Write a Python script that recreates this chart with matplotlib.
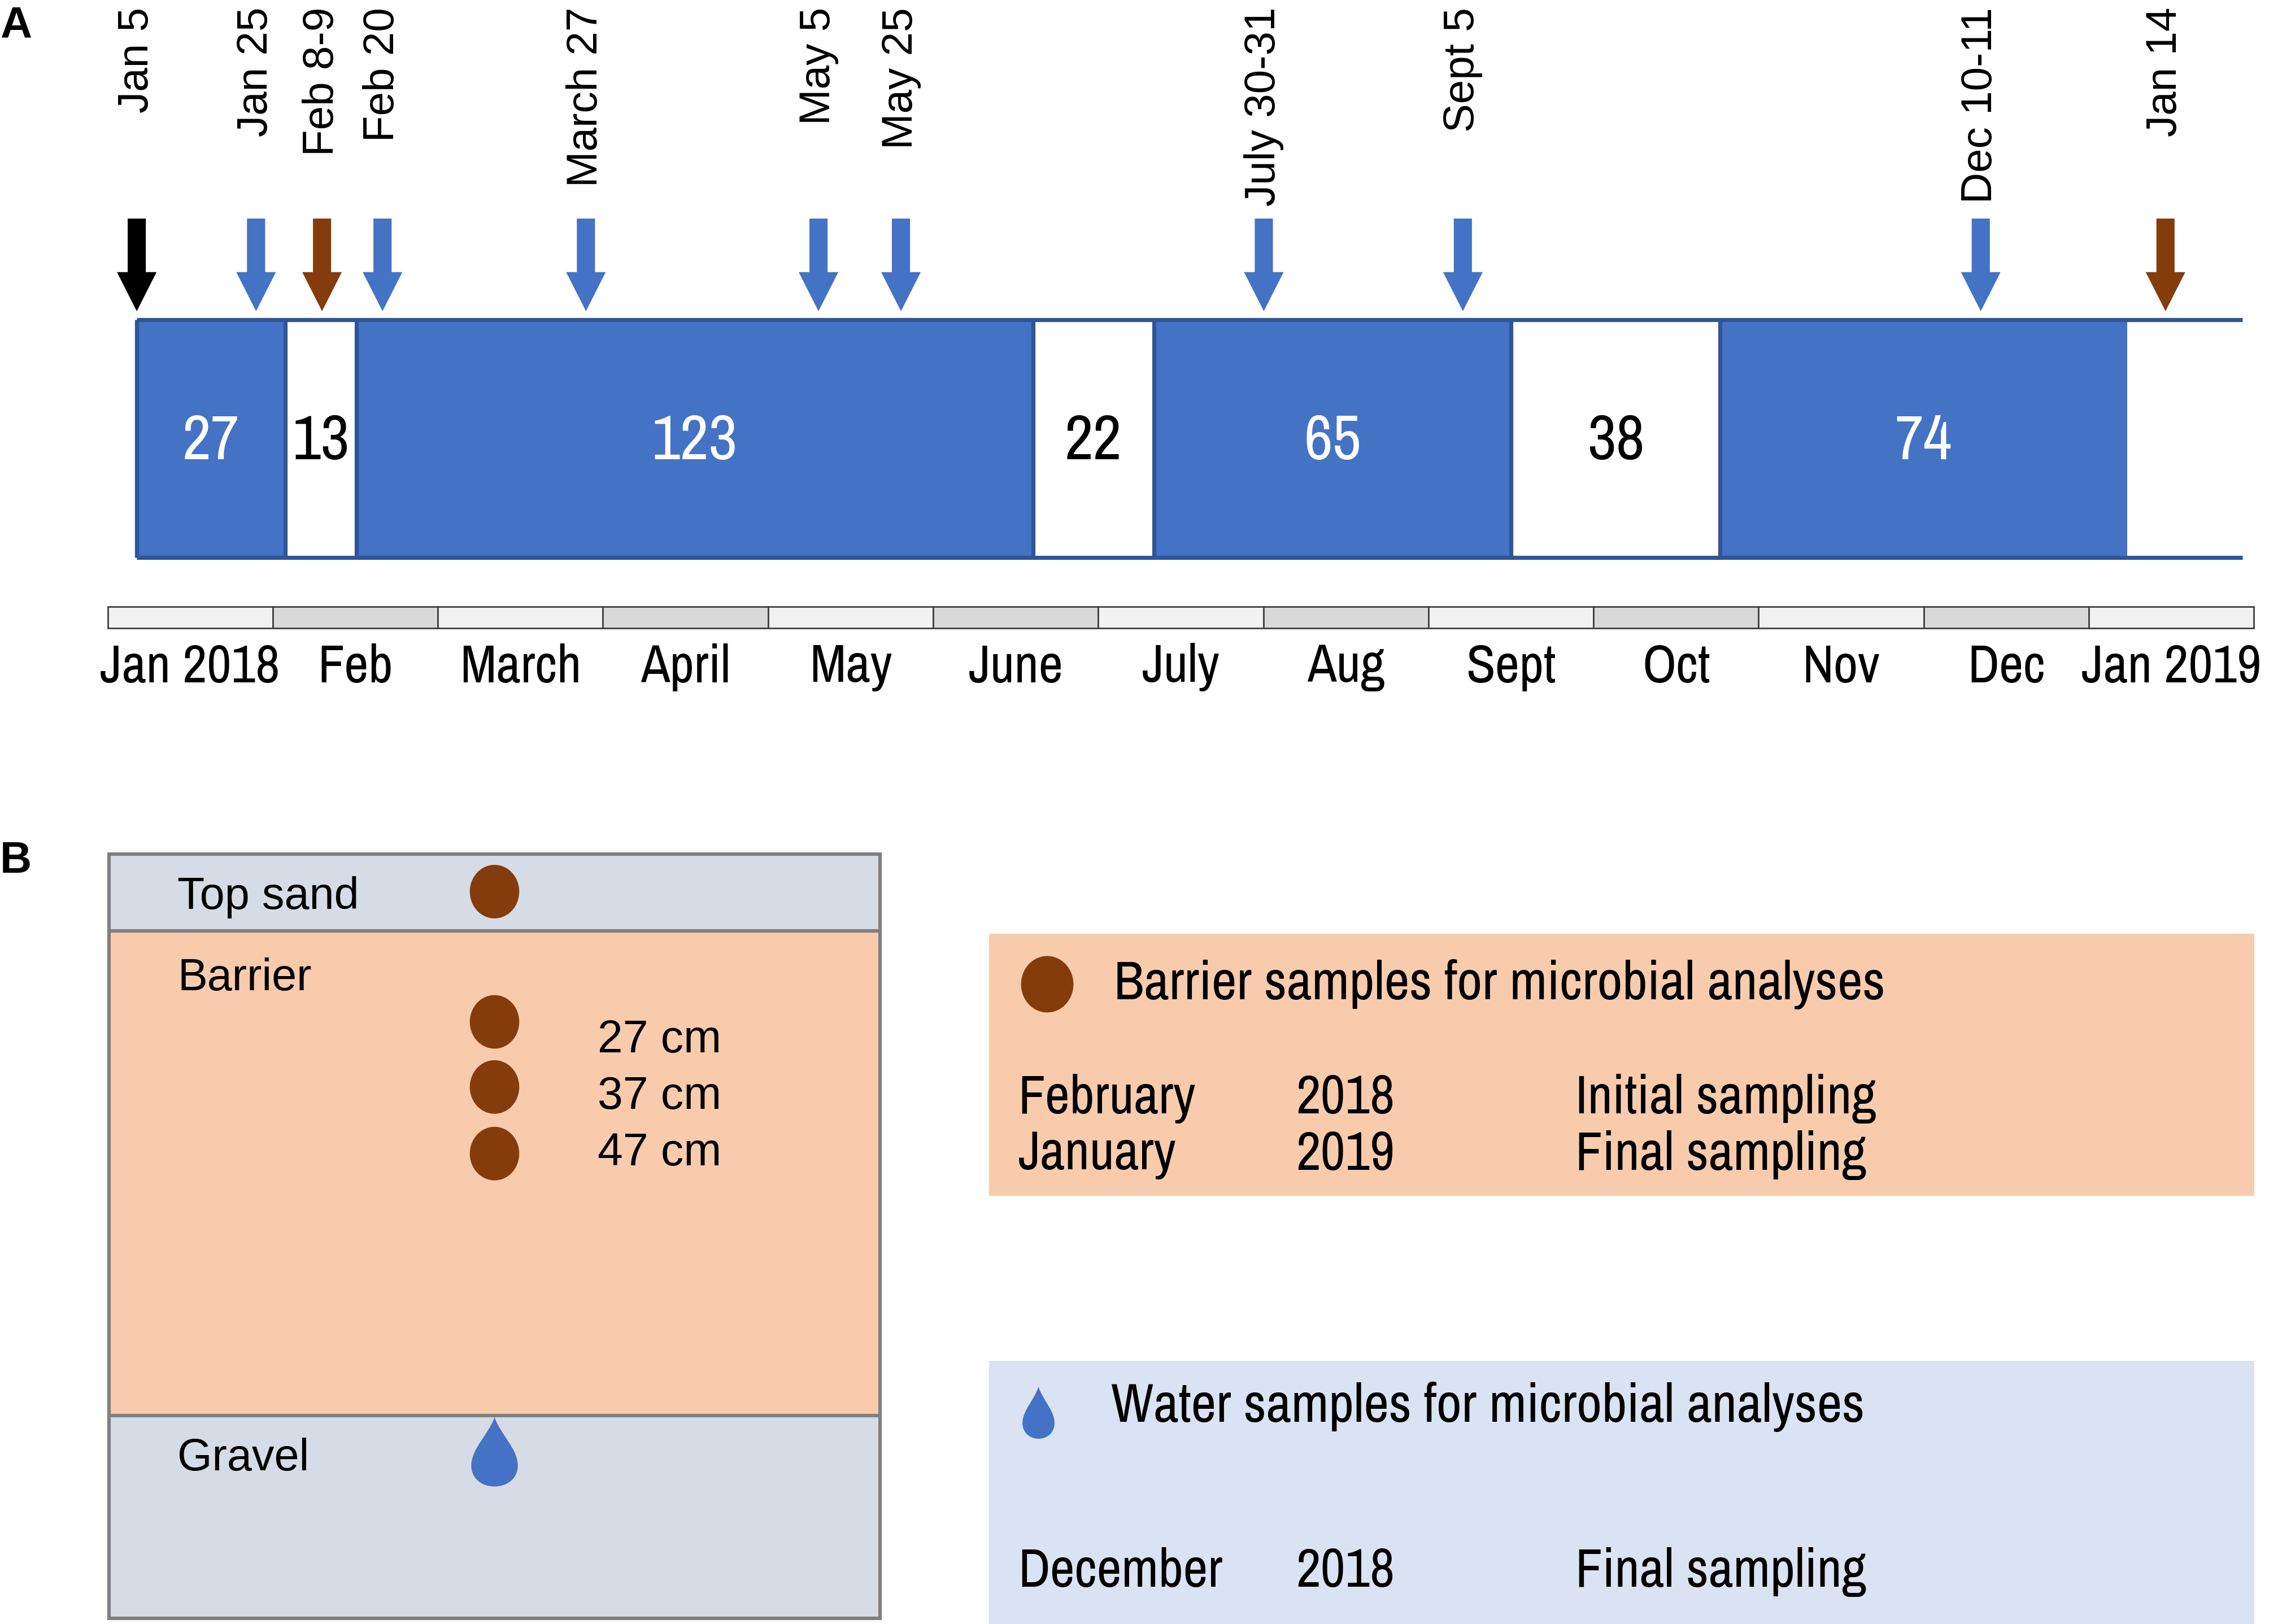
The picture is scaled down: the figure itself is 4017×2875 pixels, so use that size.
import numpy as np
import matplotlib
matplotlib.use('Agg')
import matplotlib.pyplot as plt
from matplotlib import patches, font_manager
from matplotlib.path import Path

# ---- panel A data ----
start_day = 4                      # Jan 5 2018 (day 0 = Jan 1)
durations = [27, 13, 123, 22, 65, 38, 74]
filled = [1, 0, 1, 0, 1, 0, 1]

event_labels = ['Jan 5', 'Jan 25', 'Feb 8-9', 'Feb 20', 'March 27', 'May 5',
                'May 25', 'July 30-31', 'Sept 5', 'Dec 10-11', 'Jan 14']
event_days = [4, 25.7, 37.7, 48.7, 85.7, 128, 143, 209, 245.2, 339.4, 373]
event_kind = ['start', 'water', 'barrier', 'water', 'water', 'water',
              'water', 'water', 'water', 'water', 'barrier']

months = ['Jan 2018', 'Feb', 'March', 'April', 'May', 'June', 'July',
          'Aug', 'Sept', 'Oct', 'Nov', 'Dec', 'Jan 2019']

# ---- panel B data ----
layers = ['Top sand', 'Barrier', 'Gravel']
depths = ['27 cm', '37 cm', '47 cm']
barrier_rows = [('February', '2018', 'Initial sampling'),
                ('January', '2019', 'Final sampling')]
water_rows = [('December', '2018', 'Final sampling')]

BLUE = '#4472C4'
DARKBLUE = '#2F5597'
BROWN = '#843C0C'
PEACH = '#F8CBAD'
GREYBLUE = '#D6DCE5'
LIGHTBLUE = '#DAE3F3'
kind_color = {'start': 'black', 'water': BLUE, 'barrier': BROWN}

names = {f.name for f in font_manager.fontManager.ttflist}
if 'Archivo Narrow' in names:
    NARROW, nscale = 'Archivo Narrow', 1.0
else:
    NARROW, nscale = 'Liberation Sans', 0.82
SANS = 'Liberation Sans'

fig = plt.figure(figsize=(20.085, 14.375), dpi=200)

# panel A axes: x in days, y in picture rows
PX0, PXD = 78.9, 3.78
axA = fig.add_axes([0, 0, 1, 1])
axA.set_xlim((0 - PX0) / PXD, (1560 - PX0) / PXD)
axA.set_ylim(1122, 0)
axA.axis('off')

box_top, box_bot = 221, 385
edges = start_day + np.concatenate([[0], np.cumsum(durations)])
axA.bar(edges[:-1], box_bot - box_top, width=durations, bottom=box_top, align='edge',
        color=[BLUE if f else 'white' for f in filled], linewidth=0, zorder=1)
line_end = 387
axA.hlines([box_top, box_bot], start_day, line_end, color=DARKBLUE, lw=2.6, zorder=2)
axA.vlines(edges[:-1], box_top, box_bot, color=DARKBLUE, lw=2.6, zorder=2)
for x0, d, f in zip(edges[:-1], durations, filled):
    axA.text(x0 + d / 2, 305, str(d), ha='center', va='center', family=NARROW,
             fontsize=40 * nscale, color='white' if f else 'black', zorder=3)

for day, lab, kind in zip(event_days, event_labels, event_kind):
    axA.add_patch(patches.FancyArrow(day, 151, 0, 64, width=3.3, head_width=7.2,
                                     head_length=27, length_includes_head=True,
                                     color=kind_color[kind], lw=0))
    axA.text(day, 5, lab, rotation=90, ha='center', va='top', family=SANS,
             fontsize=27.5)

# month strip
month_len, month_x0 = 30.03, -1.3
mx = month_x0 + month_len * np.arange(len(months))
axA.bar(mx, 15, width=month_len, bottom=419, align='edge',
        color=['#F2F2F2' if i % 2 == 0 else '#D9D9D9' for i in range(len(months))],
        edgecolor='#404040', linewidth=1.0)
for x, m in zip(mx, months):
    axA.text(x + month_len / 2, 461, m, ha='center', va='center', family=NARROW,
             fontsize=34 * nscale)

# ---- panel B axes in picture units ----
axB = fig.add_axes([0, 0, 1, 1])
axB.set_xlim(0, 1560)
axB.set_ylim(1122, 0)
axB.axis('off')
axB.patch.set_alpha(0)

axB.text(0, 18, 'A', ha='left', va='center', family=SANS, fontweight='bold', fontsize=28)
axB.text(0, 595, 'B', ha='left', va='center', family=SANS, fontweight='bold', fontsize=28)

col_x0, col_x1 = 75, 605
layer_bounds = [590, 643, 978, 1118]
layer_colors = [GREYBLUE, PEACH, GREYBLUE]
label_y = [620, 676, 1008]
for i, (name, c) in enumerate(zip(layers, layer_colors)):
    y0, y1 = layer_bounds[i], layer_bounds[i + 1]
    axB.add_patch(patches.Rectangle((col_x0, y0), col_x1 - col_x0, y1 - y0,
                                    facecolor=c, edgecolor='#7F7F7F', lw=2.2))
    axB.text(122, label_y[i], name, ha='left', va='center', family=SANS, fontsize=28.5)


def dot(x, y, w=34, h=37):
    axB.add_patch(patches.Ellipse((x, y), w, h, facecolor=BROWN, edgecolor='none', zorder=4))


def drop(cx, top, h, w):
    bot = top + h
    verts = [(cx, top),
             (cx + 0.12 * w, top + 0.25 * h), (cx + 0.5 * w, top + 0.45 * h), (cx + 0.5 * w, top + 0.7 * h),
             (cx + 0.5 * w, top + 0.88 * h), (cx + 0.28 * w, bot), (cx, bot),
             (cx - 0.28 * w, bot), (cx - 0.5 * w, top + 0.88 * h), (cx - 0.5 * w, top + 0.7 * h),
             (cx - 0.5 * w, top + 0.45 * h), (cx - 0.12 * w, top + 0.25 * h), (cx, top),
             (cx, top)]
    codes = [Path.MOVETO] + [Path.CURVE4] * 12 + [Path.CLOSEPOLY]
    axB.add_patch(patches.PathPatch(Path(verts, codes), facecolor=BLUE, edgecolor='none', zorder=4))


dot(340, 616)
for y in [706, 751, 797]:
    dot(340, y)
for y, d in zip([719, 758, 797], depths):
    axB.text(411, y, d, ha='left', va='center', family=SANS, fontsize=29)
drop(340, 979, 48, 32)

# legend boxes
axB.add_patch(patches.Rectangle((680, 645), 870, 181, facecolor=PEACH, edgecolor='none'))
axB.add_patch(patches.Rectangle((680, 940), 870, 190, facecolor=LIGHTBLUE, edgecolor='none'))
dot(720, 680, 36, 39)
axB.text(766, 680, 'Barrier samples for microbial analyses', ha='left', va='center',
         family=NARROW, fontsize=35 * nscale)
drop(714, 958, 36, 22)
axB.text(764, 972, 'Water samples for microbial analyses', ha='left', va='center',
         family=NARROW, fontsize=35 * nscale)
cols = [700, 891, 1083]
for y, row in zip([759, 798], barrier_rows):
    for x, t in zip(cols, row):
        axB.text(x, y, t, ha='left', va='center', family=NARROW, fontsize=34.5 * nscale)
for y, row in zip([1086], water_rows):
    for x, t in zip(cols, row):
        axB.text(x, y, t, ha='left', va='center', family=NARROW, fontsize=34.5 * nscale)

fig.savefig('out.png', dpi=200, facecolor='white')
